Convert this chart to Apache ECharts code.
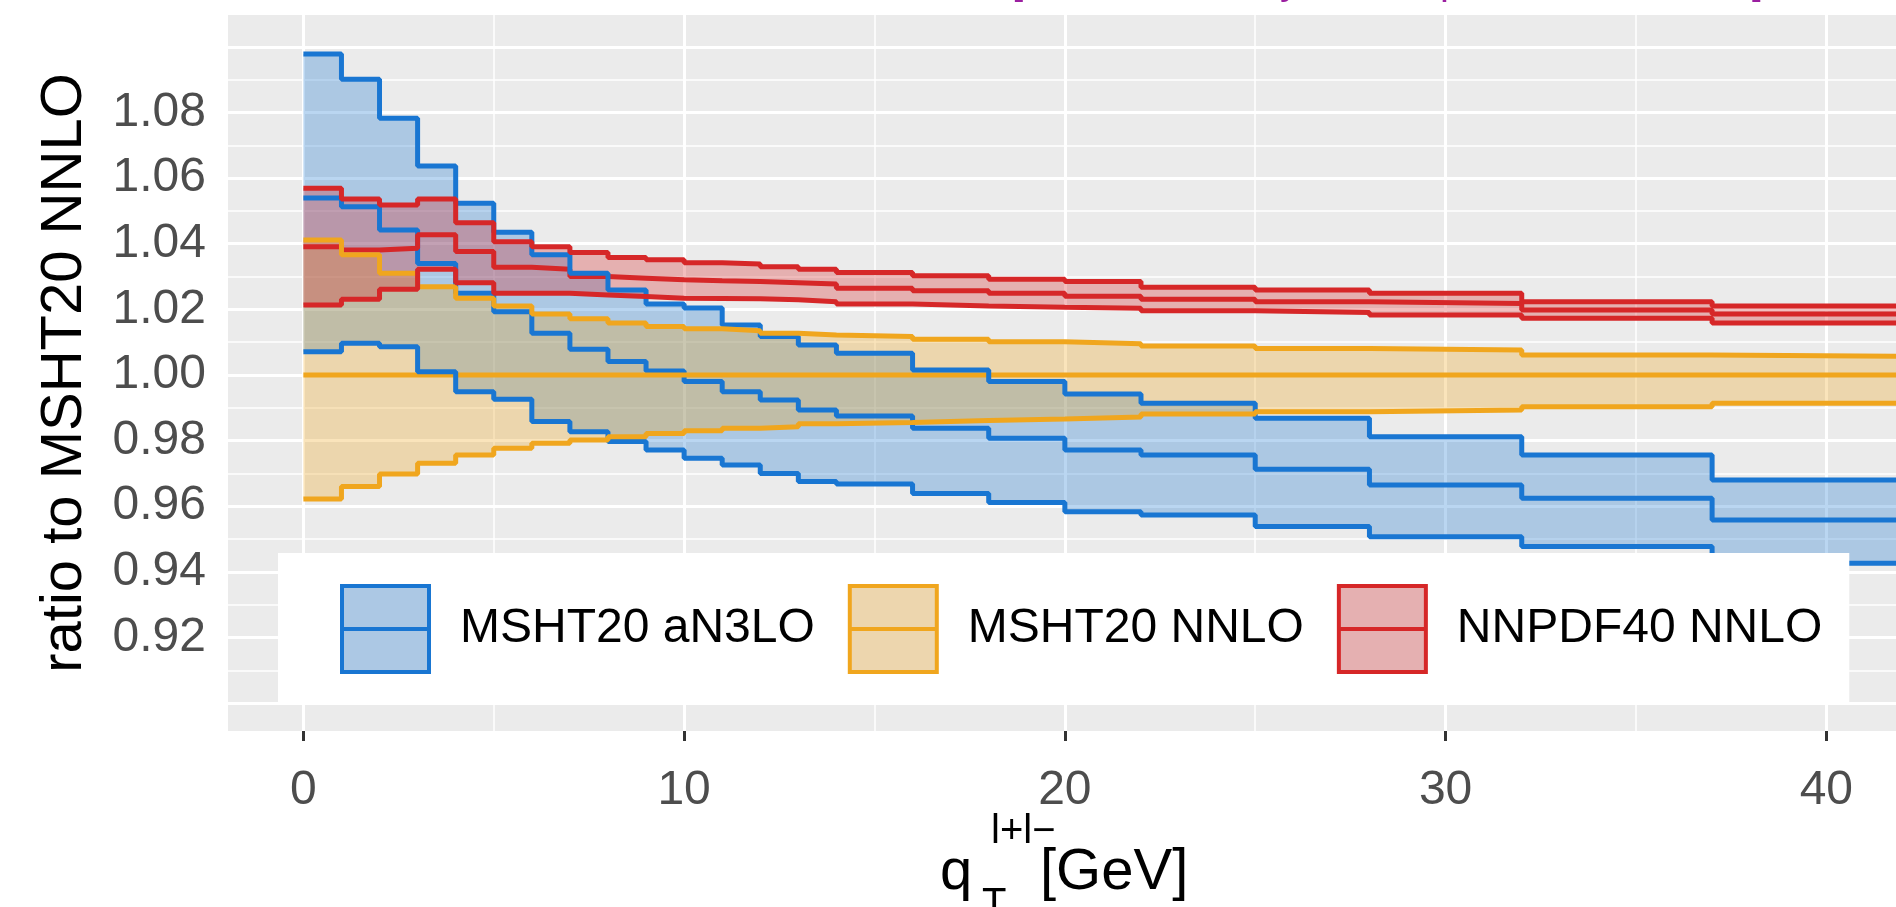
<!DOCTYPE html>
<html>
<head>
<meta charset="utf-8">
<script src="https://cdn.jsdelivr.net/npm/echarts@6/dist/echarts.min.js"></script>
<style>
  html, body { margin: 0; padding: 0; background: #ffffff; }
  #chart { width: 1896px; height: 907px; }
</style>
</head>
<body>
<div id="chart"></div>
<script>
// Bin edges of the q_T distribution [GeV]
const qTEdges = [0, 1, 2, 3, 4, 5, 6, 7, 8, 9, 10, 11, 12, 13, 14, 16, 18, 20, 22, 25, 28, 32, 37, 43];

// MSHT20 aN3LO: central value and PDF uncertainty band, per bin
const aN3LOCentral = [1.0539, 1.0513, 1.0442, 1.0340, 1.0249, 1.0193, 1.0127, 1.0078, 1.0041, 1.0012, 0.9980, 0.9949, 0.9924, 0.9893, 0.9875, 0.9838, 0.9807, 0.9771, 0.9756, 0.9713, 0.9665, 0.9624, 0.9558];
const aN3LOUpper   = [1.0978, 1.0901, 1.0782, 1.0637, 1.0523, 1.0435, 1.0366, 1.0310, 1.0259, 1.0216, 1.0204, 1.0152, 1.0117, 1.0091, 1.0066, 1.0015, 0.9980, 0.9942, 0.9914, 0.9868, 0.9812, 0.9756, 0.9680];
const aN3LOLower   = [1.0071, 1.0097, 1.0086, 1.0010, 0.9949, 0.9926, 0.9858, 0.9827, 0.9797, 0.9771, 0.9746, 0.9726, 0.9700, 0.9675, 0.9668, 0.9639, 0.9611, 0.9583, 0.9573, 0.9538, 0.9507, 0.9477, 0.9426];

// MSHT20 NNLO (the reference set itself)
const nnloCentral = [1.0, 1.0, 1.0, 1.0, 1.0, 1.0, 1.0, 1.0, 1.0, 1.0, 1.0, 1.0, 1.0, 1.0, 1.0, 1.0, 1.0, 1.0, 1.0, 1.0, 1.0, 1.0, 1.0];
const nnloUpper   = [1.0411, 1.0366, 1.0310, 1.0269, 1.0234, 1.0210, 1.0186, 1.0171, 1.0158, 1.0148, 1.0141, 1.0135, 1.0127, 1.0122, 1.0117, 1.0109, 1.0101, 1.0095, 1.0088, 1.0081, 1.0076, 1.0061, 1.0056];
const nnloLower   = [0.9622, 0.9660, 0.9698, 0.9731, 0.9756, 0.9777, 0.9792, 0.9802, 0.9812, 0.9822, 0.9830, 0.9838, 0.9842, 0.9851, 0.9855, 0.9861, 0.9866, 0.9872, 0.9881, 0.9888, 0.9893, 0.9903, 0.9914];

// NNPDF40 NNLO
const nnpdfCentral = [1.0391, 1.0381, 1.0386, 1.0427, 1.0376, 1.0328, 1.0322, 1.0300, 1.0295, 1.0290, 1.0287, 1.0285, 1.0281, 1.0277, 1.0264, 1.0257, 1.0249, 1.0240, 1.0231, 1.0223, 1.0218, 1.0198, 1.0186];
const nnpdfUpper   = [1.0569, 1.0536, 1.0518, 1.0536, 1.0464, 1.0406, 1.0391, 1.0373, 1.0358, 1.0351, 1.0342, 1.0338, 1.0330, 1.0322, 1.0312, 1.0302, 1.0292, 1.0285, 1.0267, 1.0259, 1.0249, 1.0223, 1.0210];
const nnpdfLower   = [1.0213, 1.0231, 1.0261, 1.0322, 1.0281, 1.0249, 1.0249, 1.0244, 1.0239, 1.0234, 1.0233, 1.0232, 1.0229, 1.0223, 1.0216, 1.0210, 1.0206, 1.0203, 1.0196, 1.0190, 1.0183, 1.0173, 1.0158];

// Axis ticks and panel grid
const xTickValues = [0, 10, 20, 30, 40];
const xMinorGrid  = [5, 15, 25, 35];
const yTickValues = [0.92, 0.94, 0.96, 0.98, 1.00, 1.02, 1.04, 1.06, 1.08];
const yMajorGrid  = [0.90, 0.92, 0.94, 0.96, 0.98, 1.00, 1.02, 1.04, 1.06, 1.08, 1.10];
const yMinorGrid  = [0.91, 0.93, 0.95, 0.97, 0.99, 1.01, 1.03, 1.05, 1.07, 1.09];

const legendNames = ['MSHT20 aN3LO', 'MSHT20 NNLO', 'NNPDF40 NNLO'];

const FONT = 'Liberation Sans, Arial, Helvetica, sans-serif';
const BLUE = '#1976D2', ORANGE = '#F0A61E', RED = '#D62728';
const BAND_ALPHA = 0.3;
const LINE_W = 5;

// one point per left bin edge, plus the closing right edge, for step:'end'
function stepPoints(values) {
  const pts = values.map((v, i) => [qTEdges[i], v]);
  pts.push([qTEdges[qTEdges.length - 1], values[values.length - 1]]);
  return pts;
}

function stepLine(name, values, color) {
  return {
    name: name, type: 'line', step: 'end', data: stepPoints(values),
    symbol: 'none', silent: true, animation: false,
    lineStyle: { color: color, width: LINE_W }, itemStyle: { color: color }
  };
}

// translucent ribbon between the lower and upper histograms
function bandFill(name, upper, lower, color) {
  const fill = echarts.color.modifyAlpha(color, BAND_ALPHA);
  return {
    name: name, type: 'custom', coordinateSystem: 'cartesian2d',
    clip: true, silent: true, animation: false,
    data: [[qTEdges[0], lower[0]]],
    itemStyle: { color: color },
    renderItem: function (params, api) {
      const pts = [];
      upper.forEach(function (u, i) {
        pts.push(api.coord([qTEdges[i], u]));
        pts.push(api.coord([qTEdges[i + 1], u]));
      });
      for (let i = lower.length - 1; i >= 0; i--) {
        pts.push(api.coord([qTEdges[i + 1], lower[i]]));
        pts.push(api.coord([qTEdges[i], lower[i]]));
      }
      return { type: 'polygon', shape: { points: pts }, style: { fill: fill } };
    }
  };
}

function band(name, upper, lower, color) {
  return [
    bandFill(name, upper, lower, color),
    stepLine(name + ' upper', upper, color),
    stepLine(name + ' lower', lower, color)
  ];
}

// white panel grid lines
const gridLines = []
  .concat(xTickValues.map(v => ({ xAxis: v, lineStyle: { color: '#ffffff', width: 3, type: 'solid' } })))
  .concat(xMinorGrid.map(v => ({ xAxis: v, lineStyle: { color: '#ffffff', width: 1.5, type: 'solid' } })))
  .concat(yMajorGrid.map(v => ({ yAxis: v, lineStyle: { color: '#ffffff', width: 3, type: 'solid' } })))
  .concat(yMinorGrid.map(v => ({ yAxis: v, lineStyle: { color: '#ffffff', width: 1.5, type: 'solid' } })));

const keyFill = {
  'MSHT20 aN3LO': '#ACC8E4',
  'MSHT20 NNLO': '#EDD6AE',
  'NNPDF40 NNLO': '#E5B0B1'
};
const keyLine = { 'MSHT20 aN3LO': BLUE, 'MSHT20 NNLO': ORANGE, 'NNPDF40 NNLO': RED };

const chart = echarts.init(document.getElementById('chart'), null, { renderer: 'canvas' });

chart.setOption({
  animation: false,
  backgroundColor: '#ffffff',
  grid: {
    left: 228, right: 0, top: 15, bottom: 176,
    show: true, backgroundColor: '#EBEBEB', borderWidth: 0
  },
  xAxis: {
    type: 'value', min: -1.98, max: 41.83,
    axisLine: { show: false },
    splitLine: { show: false },
    axisTick: { show: true, customValues: xTickValues, length: 10, lineStyle: { color: '#333333', width: 3 } },
    axisLabel: {
      customValues: xTickValues, margin: 36,
      fontSize: 48, color: '#4D4D4D', fontFamily: FONT
    }
  },
  yAxis: {
    type: 'value', min: 0.8915, max: 1.1097,
    axisLine: { show: false },
    splitLine: { show: false },
    axisTick: { show: true, customValues: yTickValues, length: 10, lineStyle: { color: '#333333', width: 3 } },
    axisLabel: {
      customValues: yTickValues, margin: 22,
      fontSize: 48, color: '#4D4D4D', fontFamily: FONT,
      formatter: v => v.toFixed(2)
    },
    name: 'ratio to MSHT20 NNLO', nameLocation: 'middle', nameGap: 134,
    nameTextStyle: { fontSize: 58, color: '#000000', fontFamily: FONT }
  },
  legend: {
    left: 278, top: 553, orient: 'horizontal',
    backgroundColor: '#ffffff', borderWidth: 0,
    padding: [31, 27, 31, 62],
    itemWidth: 87, itemHeight: 86, itemGap: 33,
    selectedMode: false,
    textStyle: { fontSize: 48, color: '#000000', fontFamily: FONT, padding: [0, 0, 0, 26] },
    data: legendNames.map(n => ({
      name: n,
      icon: 'path://M0,0H87V86H0ZM0,43H87',
      itemStyle: { color: keyFill[n], borderColor: keyLine[n], borderWidth: 4 }
    }))
  },
  graphic: [
    {
      type: 'group', silent: true,
      children: [
        { type: 'text', x: 940, y: 873, style: { text: 'q', fontSize: 58, fontFamily: FONT, fill: '#000', verticalAlign: 'middle' } },
        { type: 'text', x: 982, y: 905, style: { text: 'T', fontSize: 40, fontFamily: FONT, fill: '#000', verticalAlign: 'middle' } },
        { type: 'text', x: 991, y: 832, style: { text: 'l+l\u2212', fontSize: 40, fontFamily: FONT, fill: '#000', verticalAlign: 'middle' } },
        { type: 'text', x: 1040, y: 873, style: { text: '[GeV]', fontSize: 58, fontFamily: FONT, fill: '#000', verticalAlign: 'middle' } }
      ]
    },
    {
      type: 'group', silent: true,
      children: [
        { type: 'text', x: 1012, y: -17, style: { text: '[', fontSize: 40, fontFamily: FONT, fill: '#9B1FA0', verticalAlign: 'middle' } },
        { type: 'text', x: 1280, y: -17, style: { text: 'y', fontSize: 40, fontFamily: FONT, fill: '#9B1FA0', verticalAlign: 'middle' } },
        { type: 'text', x: 1440, y: -17, style: { text: 'p', fontSize: 40, fontFamily: FONT, fill: '#9B1FA0', verticalAlign: 'middle' } },
        { type: 'text', x: 1752, y: -17, style: { text: ']', fontSize: 40, fontFamily: FONT, fill: '#9B1FA0', verticalAlign: 'middle' } }
      ]
    }
  ],
  series: [
    {
      name: 'panel grid', type: 'line', data: [], silent: true, animation: false,
      markLine: {
        silent: true, z: 1, animation: false,
        symbol: ['none', 'none'],
        label: { show: false },
        emphasis: { disabled: true },
        data: gridLines
      }
    },
    stepLine('MSHT20 aN3LO central', aN3LOCentral, BLUE),
    stepLine('MSHT20 NNLO central', nnloCentral, ORANGE),
    stepLine('NNPDF40 NNLO central', nnpdfCentral, RED)
  ]
    .concat(band('MSHT20 aN3LO', aN3LOUpper, aN3LOLower, BLUE))
    .concat(band('MSHT20 NNLO', nnloUpper, nnloLower, ORANGE))
    .concat(band('NNPDF40 NNLO', nnpdfUpper, nnpdfLower, RED))
});
</script>
</body>
</html>
